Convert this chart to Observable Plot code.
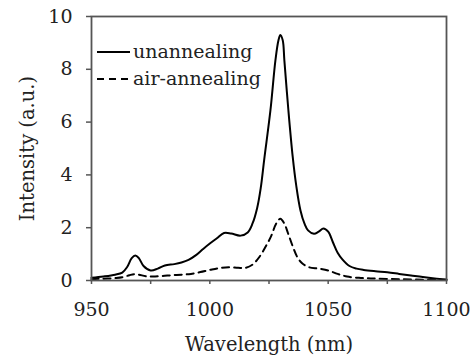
<!DOCTYPE html>
<html>
<head>
<meta charset="utf-8">
<script src="https://cdn.jsdelivr.net/npm/d3@7"></script>
<script src="https://cdn.jsdelivr.net/npm/@observablehq/plot@0.6"></script>
<style>
  html, body { margin: 0; padding: 0; background: #fff; }
  #wrap { position: relative; width: 476px; height: 359px; font-family: "DejaVu Serif", serif; }
  #legend { position: absolute; left: 97px; top: 38px; font-size: 19px; color: #222; line-height: 27px; font-family: "DejaVu Serif", serif; }
  #legend .row { display: flex; align-items: center; white-space: nowrap; }
  #legend svg { margin-right: 3px; }
</style>
</head>
<body>
<div id="wrap"></div>
<script>
// Series: unannealing (solid)
const unWave = [950,955,960,963,965,967,968.5,970,972,975,978,981,985,988,991,994,997,1000,1003,1006,1009,1013,1016,1018,1020,1021.5,1023,1025.6,1027.7,1029,1029.8,1030.8,1031.5,1033.2,1035,1036.5,1038.3,1040,1041.5,1044,1046,1048,1050,1052,1054,1056,1059,1062,1065,1070,1075,1080,1085,1090,1095,1100];
const unInt  = [0.10,0.15,0.22,0.30,0.50,0.85,0.95,0.85,0.55,0.38,0.45,0.57,0.62,0.68,0.78,0.95,1.18,1.40,1.60,1.80,1.78,1.70,1.82,2.15,2.75,3.5,4.6,6.44,8.33,9.1,9.3,9.1,8.33,6.44,4.7,3.6,2.65,2.15,1.9,1.77,1.85,1.97,1.85,1.45,1.05,0.80,0.55,0.45,0.40,0.35,0.31,0.25,0.19,0.13,0.08,0.04];
// Series: air-annealing (dashed)
const airWave = [950,955,960,963,966,968,970,973,976,980,984,988,992,996,1000,1004,1008,1012,1015,1018,1021,1024,1026,1028,1029.8,1031.5,1033,1035,1037,1039,1042,1046,1050,1054,1058,1063,1068,1075,1085,1100];
const airInt  = [0.05,0.07,0.09,0.12,0.20,0.24,0.22,0.16,0.15,0.17,0.20,0.22,0.25,0.32,0.40,0.47,0.50,0.48,0.48,0.60,0.90,1.35,1.70,2.15,2.34,2.15,1.80,1.30,0.88,0.65,0.50,0.45,0.38,0.25,0.15,0.10,0.08,0.06,0.04,0.02];
const seriesNames = ["unannealing", "air-annealing"];
const xMajorTicks = [950, 1000, 1050, 1100];
const xMinorTicks = [950, 975, 1000, 1025, 1050, 1075, 1100];
const yTicks = [0, 2, 4, 6, 8, 10];
const xLabel = "Wavelength (nm)";
const yLabel = "Intensity (a.u.)";

const unData = unWave.map((w, i) => ({w, v: unInt[i]}));
const airData = airWave.map((w, i) => ({w, v: airInt[i]}));

const axisColor = "#555";
const font = "'DejaVu Serif', serif";
const chart = Plot.plot({
  width: 476,
  height: 359,
  marginLeft: 91,
  marginRight: 30,
  marginTop: 16,
  marginBottom: 79,
  style: {fontFamily: font, fontSize: "19px", color: "#222", background: "#fff"},
  x: {domain: [950, 1100]},
  y: {domain: [0, 10]},
  marks: [
    Plot.axisX({ticks: xMinorTicks, tickSize: 4, stroke: axisColor, strokeWidth: 1.5, text: null, label: null}),
    Plot.axisX({ticks: xMajorTicks, tickSize: 0, tickPadding: 22, tickFormat: d => String(d), label: null, fontSize: 19, fill: "#222"}),
    Plot.axisY({ticks: yTicks, tickSize: 5, tickPadding: 14, tickFormat: d => String(d), stroke: axisColor, strokeWidth: 1.5, label: null, fontSize: 19, fill: "#222"}),
    Plot.line(airData, {x: "w", y: "v", stroke: "#000", strokeWidth: 2, strokeDasharray: "7,5", curve: "catmull-rom"}),
    Plot.line(unData, {x: "w", y: "v", stroke: "#000", strokeWidth: 2, curve: "catmull-rom"}),
    Plot.frame({stroke: axisColor, strokeWidth: 1.8}),
    Plot.text([xLabel], {frameAnchor: "bottom", dy: 70, fontSize: 19.5, fill: "#222", textAnchor: "middle"}),
    Plot.text([yLabel], {frameAnchor: "left", dx: -64, rotate: -90, fontSize: 19.5, fill: "#222", textAnchor: "middle", lineAnchor: "middle"})
  ]
});
const wrap = document.getElementById("wrap");
wrap.appendChild(chart);

const legend = document.createElement("div");
legend.id = "legend";
const dashes = [null, "7,5"];
seriesNames.forEach((name, i) => {
  const row = document.createElement("div");
  row.className = "row";
  row.innerHTML = `<svg width="33" height="6"><line x1="0" x2="33" y1="3" y2="3" stroke="#000" stroke-width="2" ${dashes[i] ? `stroke-dasharray="${dashes[i]}"` : ""}/></svg><span>${name}</span>`;
  legend.appendChild(row);
});
wrap.appendChild(legend);
</script>
</body>
</html>
